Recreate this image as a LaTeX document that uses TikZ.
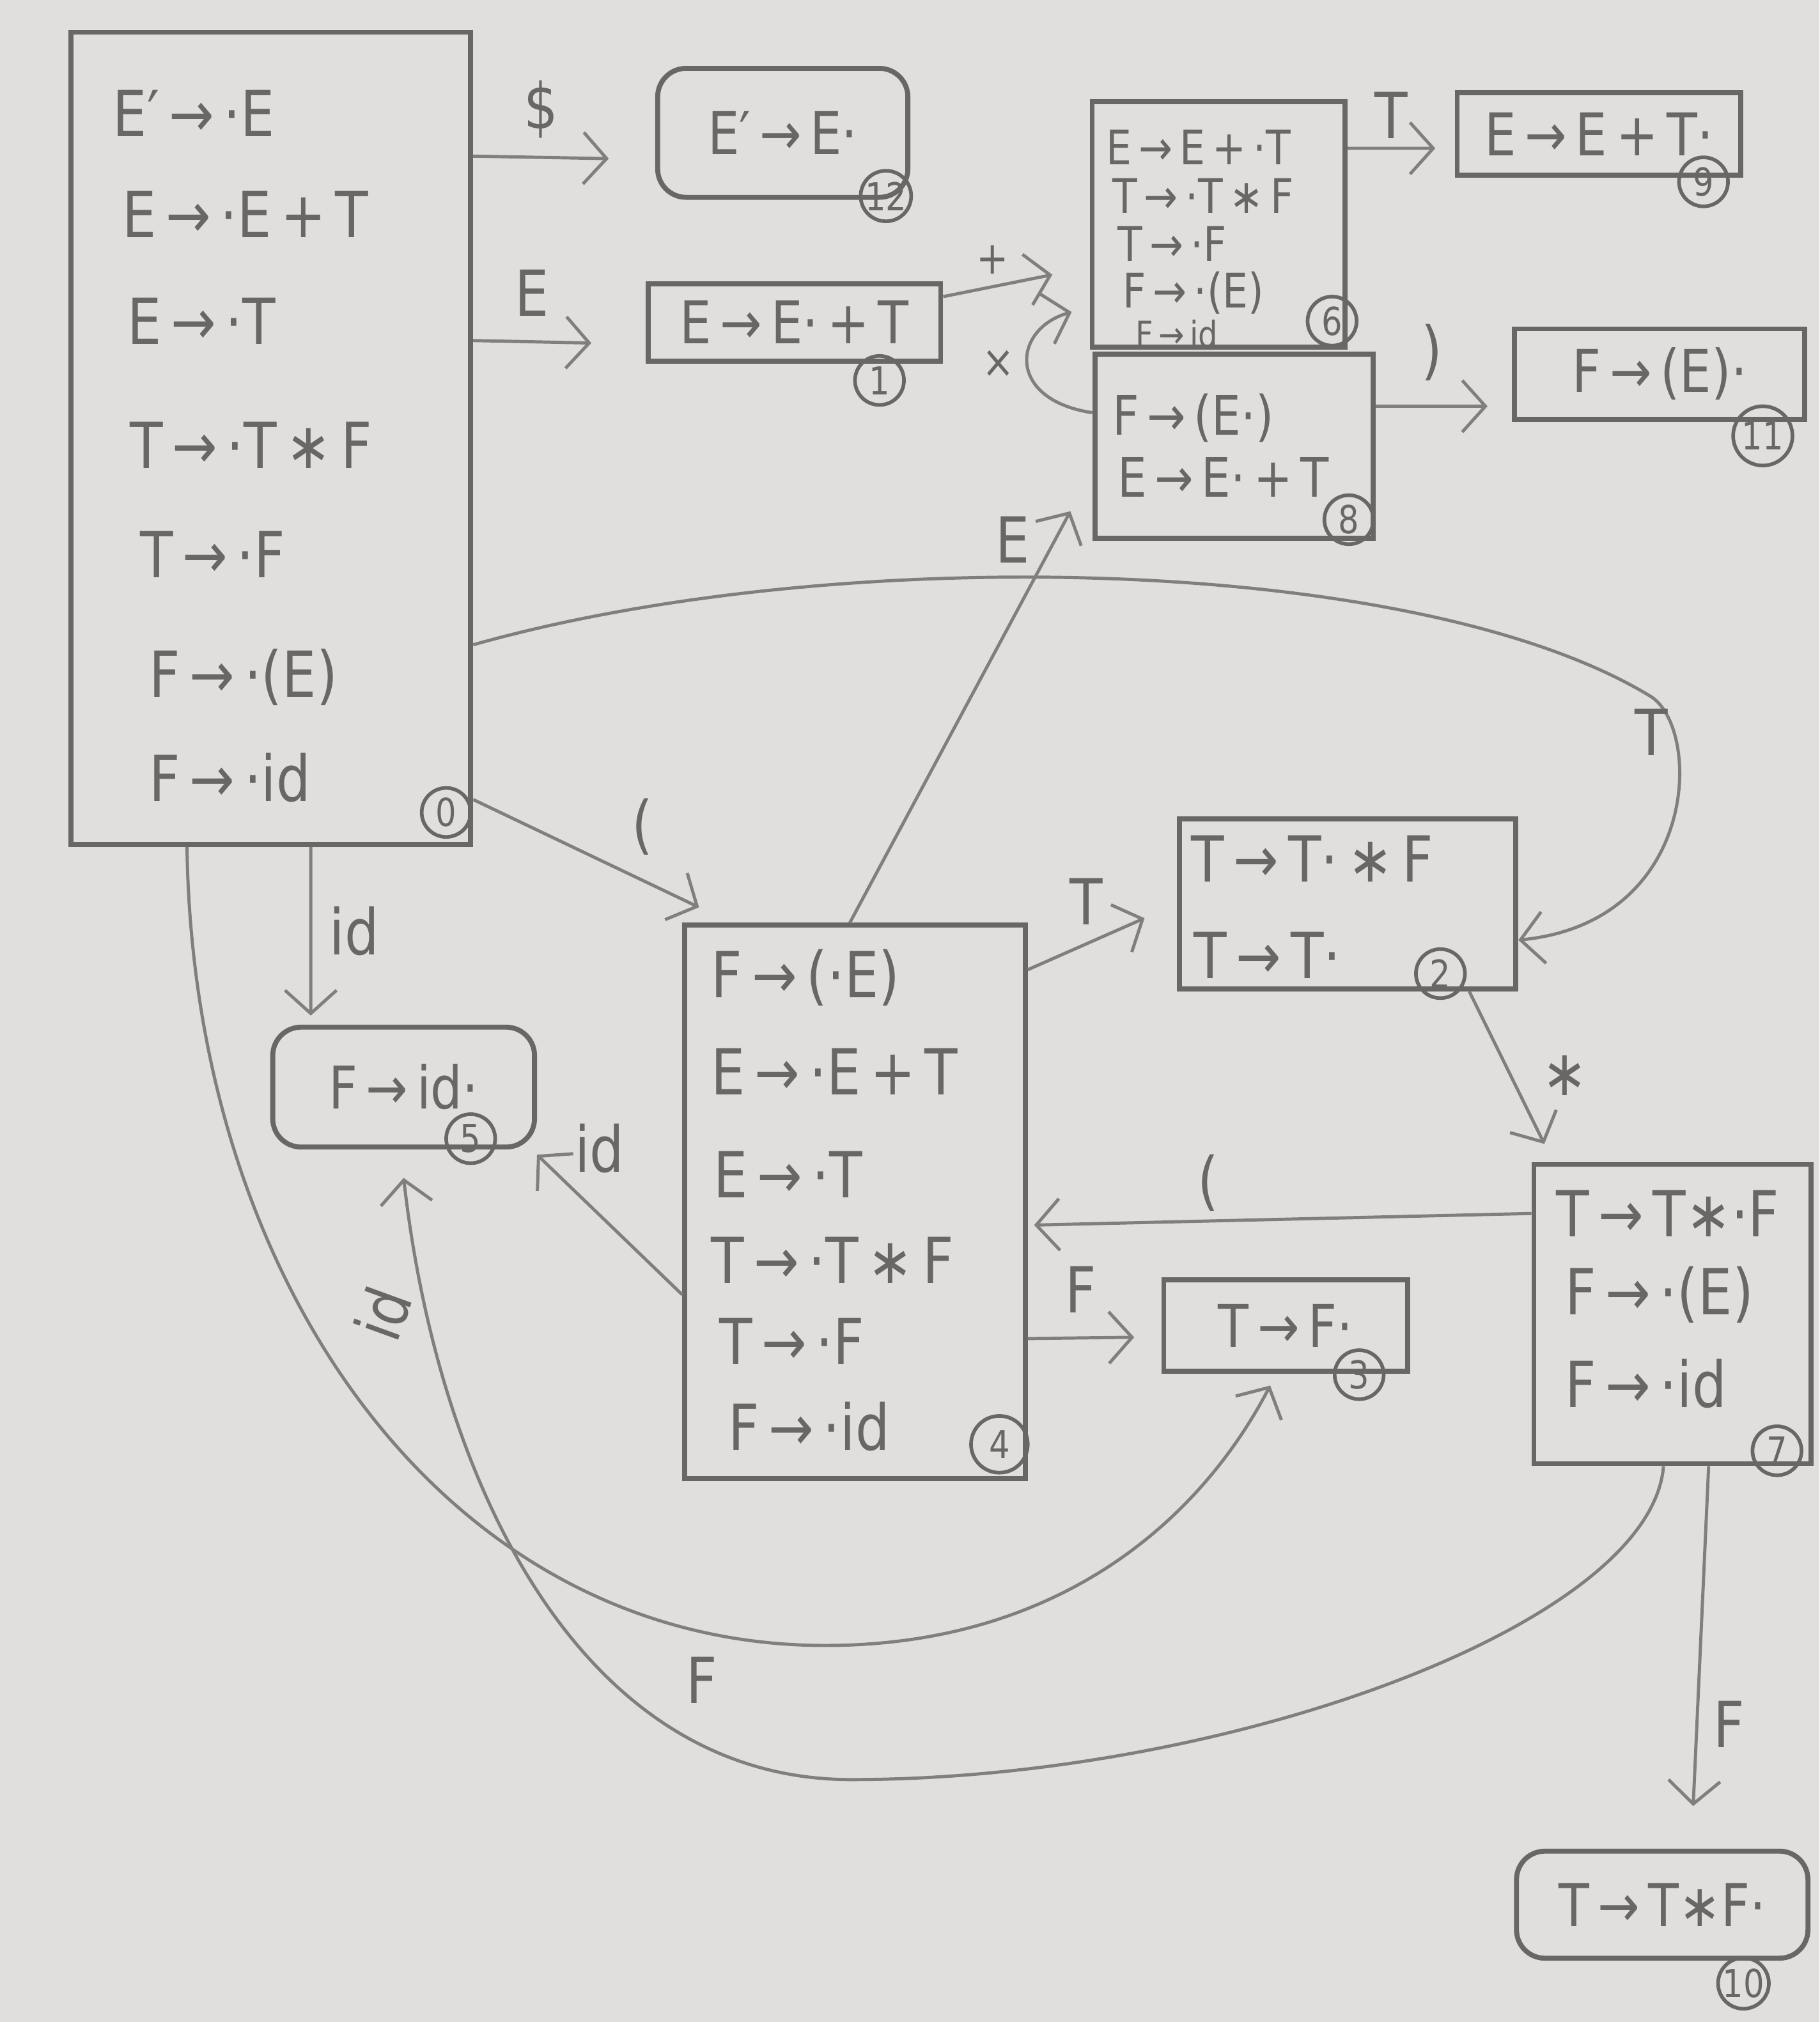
\documentclass[tikz,border=0pt]{standalone}
\usepackage{fontspec}
\setmainfont{DejaVu Sans}[FakeStretch=0.85, WordSpace=0.55]
\usepackage{tikz}
\usetikzlibrary{positioning, arrows.meta}
\definecolor{Paper}{RGB}{224,223,221}
\definecolor{Lead}{RGB}{104,103,102}
\definecolor{LeadLt}{RGB}{128,127,126}

\begin{document}
\begin{tikzpicture}[x=0.1mm, y=-0.1mm,
          st/.style={rectangle, draw=Lead, line width=1.1pt, inner sep=0pt,
                     text=Lead, font=\fontsize{13}{13}\selectfont},
          acc/.style={st, rounded corners=2.2mm},
          num/.style={circle, draw=Lead, line width=0.8pt, inner sep=0pt,
                      minimum size=3.8mm, text=Lead, font=\fontsize{8.5}{8.5}\selectfont},
          itm/.style={anchor=west, inner sep=0pt, text=Lead,
                      font=\fontsize{14}{14}\selectfont},
          sm/.style={itm, font=\fontsize{10.5}{10.5}\selectfont},
          lbl/.style={text=Lead, inner sep=1pt, font=\fontsize{14}{14}\selectfont},
          arr/.style={-{Straight Barb[length=1.8mm, width=4mm]}, draw=LeadLt, line width=0.7pt}
        ]
        \fill[Paper] (0,0) rectangle (1411,1568);

        % State 0 (left column)
        \node[st, minimum width=31mm, minimum height=63mm] (s0) at (210,340) {};
        \foreach \x/\y/\txt [count=\i] in {87/88/{E′ → ·E}, 94/166/{E → ·E + T},
            98/249/{E → ·T}, 100/345/{T → ·T ∗ F}, 108/430/{T → ·F},
            115/525/{F → ·(E)}, 115/603/{F → ·id}} {
          \node[itm] (s0r\i) at (\x,\y) {\txt};
        }
        \node[num] (n0) at (346,630) {0};

        % Top row: states 12, 1, 6, 9, 8, 11
        \node[acc, minimum width=19.4mm, minimum height=10mm] (s12) at (607,103) {E′ → E·};
        \node[num] (n12) at (687,152) {12};
        \node[st, minimum width=22.7mm, minimum height=6mm] (s1) at (616,250) {E → E· + T};
        \node[num] (n1) at (682,295) {1};

        \node[st, minimum width=19.6mm, minimum height=19mm] (s6) at (945,174) {};
        \foreach \x/\y/\txt [count=\i] in {857/114/{E → E + ·T}, 862/152/{T → ·T ∗ F},
            866/189/{T → ·F}, 870/227/{F → ·(E)}} {
          \node[sm] (s6r\i) at (\x,\y) {\txt};
        }
        \node[itm, font=\fontsize{8}{8}\selectfont] (s6r5) at (880,259) {F → id};
        \node[num] (n6) at (1033,249) {6};

        \node[st, minimum width=22mm, minimum height=6.4mm] (s9) at (1240,104) {E → E + T·};
        \node[num] (n9) at (1321,141) {9};

        \node[st, minimum width=21.6mm, minimum height=14.3mm] (s8) at (957,346) {};
        \foreach \x/\y/\txt [count=\i] in {862/324/{F → (E·)}, 866/370/{E → E· + T}} {
          \node[itm, font=\fontsize{12}{12}\selectfont] (s8r\i) at (\x,\y) {\txt};
        }
        \node[num] (n8) at (1046,403) {8};

        \node[st, minimum width=22.5mm, minimum height=7mm] (s11) at (1287,290) {F → (E)·};
        \node[num, minimum size=4.6mm] (n11) at (1367,338) {11};

        % Middle: states 2, 5, 4, 3, 7
        \node[st, minimum width=26.1mm, minimum height=13.2mm] (s2) at (1045,701) {};
        \foreach \x/\y/\txt [count=\i] in {923/666/{T → T· ∗ F}, 925/741/{T → T·}} {
          \node[itm] (s2r\i) at (\x,\y) {\txt};
        }
        \node[num] (n2) at (1117,755) {2};

        \node[acc, minimum width=20.3mm, minimum height=9.3mm] (s5) at (313,843) {F → id·};
        \node[num] (n5) at (365,883) {5};

        \node[st, minimum width=26.4mm, minimum height=42.9mm] (s4) at (663,932) {};
        \foreach \x/\y/\txt [count=\i] in {551/758/{F → (·E)}, 551/831/{E → ·E + T},
            553/911/{E → ·T}, 551/977/{T → ·T ∗ F}, 557/1040/{T → ·F},
            564/1106/{F → ·id}} {
          \node[itm] (s4r\i) at (\x,\y) {\txt};
        }
        \node[num, minimum size=4.4mm] (n4) at (775,1120) {4};

        \node[st, minimum width=18.9mm, minimum height=7.1mm] (s3) at (997,1028) {T → F·};
        \node[num] (n3) at (1054,1066) {3};

        \node[st, minimum width=21.5mm, minimum height=23.2mm] (s7) at (1297,1019) {};
        \foreach \x/\y/\txt [count=\i] in {1206/941/{T → T∗·F}, 1213/1004/{F → ·(E)},
            1213/1073/{F → ·id}} {
          \node[itm] (s7r\i) at (\x,\y) {\txt};
        }
        \node[num] (n7) at (1378,1125) {7};

        % Bottom: state 10
        \node[acc, minimum width=22.6mm, minimum height=8.3mm] (s10) at (1289,1477) {T → T∗F·};
        \node[num] (n10) at (1352,1538) {10};

        % Transitions
        \draw[arr] ([yshift=-9.8mm]s0.north east) -- node[lbl, above=1mm] {\$}
              ([xshift=-3.6mm,yshift=-2mm]s12.west);
        \draw[arr] ([yshift=-24.1mm]s0.north east) -- node[lbl, above=1.5mm] {E}
              ([xshift=-4.2mm,yshift=-1.6mm]s1.west);
        \draw[arr] ([yshift=2mm]s1.east) -- node[lbl, pos=0.45, above=0.5mm,
              font=\fontsize{10}{10}\selectfont] {+} ([xshift=-2.9mm,yshift=-3.9mm]s6.west);
        \draw[arr] ([yshift=2.6mm]s8.west) .. controls (780,310) and (785,255) ..
              ([xshift=-1.4mm,yshift=2.9mm]s6.south west)
              node[lbl, pos=0.5, left=0.5mm, font=\fontsize{10}{10}\selectfont] {×};
        \draw[arr] ([yshift=5.9mm]s6.east) -- node[lbl, above=0.3mm] {T}
              ([xshift=-1.5mm,yshift=-1.1mm]s9.west);
        \draw[arr] ([yshift=3.1mm]s8.east) -- node[lbl, above=1.5mm] {)}
              ([xshift=-1.9mm,yshift=-2.5mm]s11.west);
        \draw[arr] ([xshift=-0.4mm]s4.north) -- node[lbl, pos=0.93, left=1.5mm] {E}
              ([xshift=-1.7mm,yshift=2.3mm]s8.south west);
        \draw[arr] ([yshift=-16mm]s0.east) .. controls (650,420) and (1100,430) .. (1280,540)
              .. controls (1320,565) and (1318,715) .. ([yshift=-2.8mm]s2.east)
              node[lbl, pos=0.2, left] {T};
        \draw[arr] ([yshift=-28mm]s0.east) -- node[lbl, pos=0.75, above=1.5mm] {(}
              ([xshift=1.3mm,yshift=1.2mm]s4.north west);
        \draw[arr] ([xshift=3.1mm]s0.south) -- node[lbl, midway, right=1mm] {id}
              ([xshift=-7.2mm,yshift=0.7mm]s5.north);
        \draw[arr] ([yshift=18mm]s4.east) -- node[lbl, above=1mm] {T}
              ([xshift=-2.5mm,yshift=-1.1mm]s2.west);
        \draw[arr] ([xshift=-3.8mm]s2.south east) -- node[lbl, pos=0.55, right=2mm] {∗}
              ([xshift=1mm,yshift=1.4mm]s7.north west);
        \draw[arr] ([yshift=7.8mm]s7.west) -- node[lbl, pos=0.65, above=0.3mm] {(}
              ([xshift=0.5mm,yshift=-1.8mm]s4.east);
        \draw[arr] ([yshift=-7.2mm]s4.west) -- node[lbl, pos=0.57, above=2.8mm] {id}
              ([yshift=-0.4mm]s5.south east);
        \draw[arr] ([yshift=-10.6mm]s4.east) -- node[lbl, above=1.5mm] {F}
              ([xshift=-2.1mm,yshift=-0.9mm]s3.west);
        % long curves under the states
        \draw[arr] ([xshift=-6.5mm]s0.south) .. controls (150,1000) and (350,1276) .. (640,1276)
              node[lbl, xshift=-9.6mm, yshift=-2.7mm] {F}
              .. controls (820,1276) and (930,1180) .. ([xshift=-1.2mm,yshift=-0.9mm]s3.south);
        \draw[arr] ([xshift=-0.7mm]s7.south) .. controls (1280,1260) and (950,1380) .. (660,1380)
              .. controls (450,1380) and (340,1150) .. ([yshift=-2.2mm]s5.south)
              node[lbl, pos=0.85, xshift=-3.4mm, rotate=70] {id};
        \draw[arr] ([xshift=2.8mm]s7.south) -- node[lbl, pos=0.76, right=0.8mm] {F}
              ([xshift=2.4mm,yshift=3.3mm]s10.north);
      \end{tikzpicture}
\end{document}
